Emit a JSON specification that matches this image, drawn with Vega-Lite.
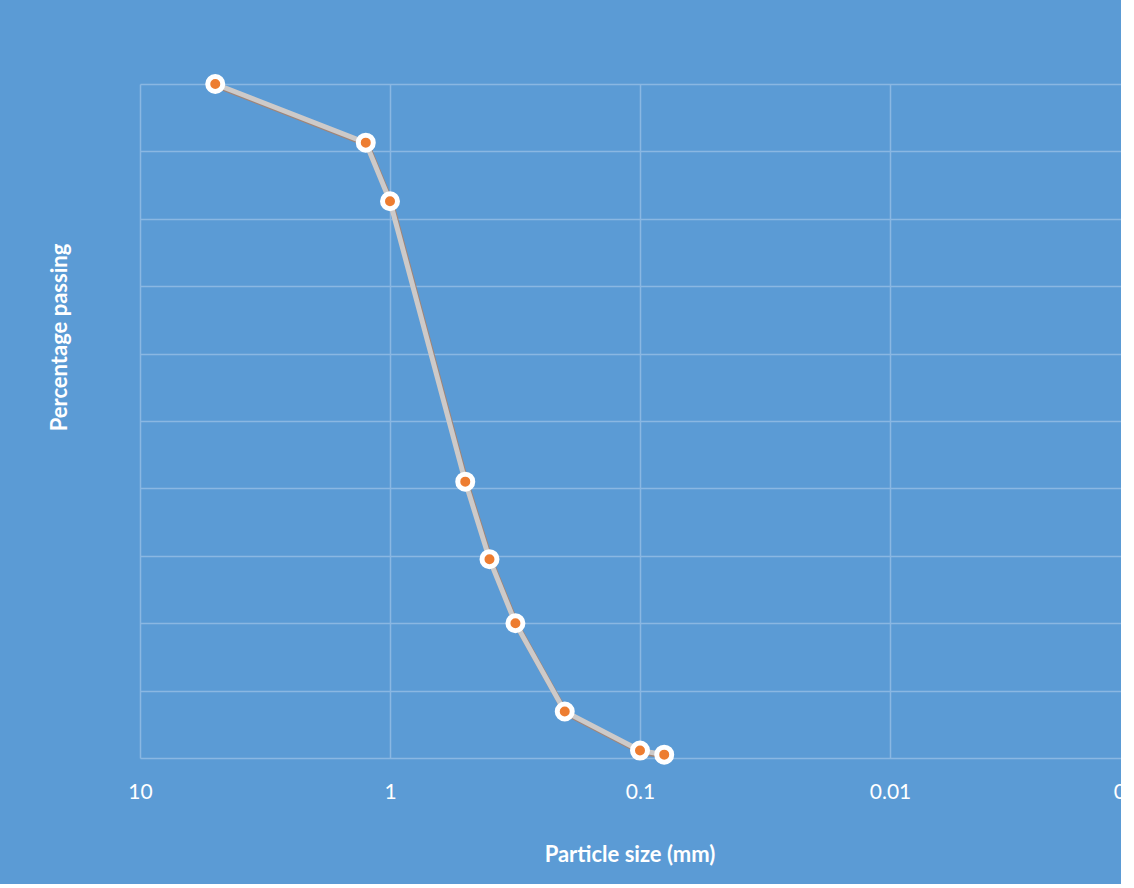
{
  "$schema": "https://vega.github.io/schema/vega-lite/v6.json",
  "autosize": {"type": "none"},
  "width": 1000,
  "height": 674,
  "padding": {"left": 140, "top": 84, "right": -19, "bottom": 126},
  "background": "#5B9BD5",
  "config": {
    "view": {"stroke": null},
    "font": "Lato",
    "axis": {
      "gridColor": "#8AB7E2",
      "gridWidth": 1.5,
      "gridOpacity": 1,
      "domain": false,
      "ticks": false,
      "tickSize": 0,
      "labelColor": "#FFFFFF",
      "labelFont": "Lato",
      "labelFontSize": 21,
      "titleColor": "#FFFFFF",
      "titleFont": "Lato",
      "titleFontSize": 22,
      "titleFontWeight": "bold"
    }
  },
  "data": {
    "values": [
      {"size_mm": 5, "passing": 100},
      {"size_mm": 1.25, "passing": 91.3},
      {"size_mm": 1, "passing": 82.6},
      {"size_mm": 0.5, "passing": 41.0},
      {"size_mm": 0.4, "passing": 29.5},
      {"size_mm": 0.315, "passing": 20.0},
      {"size_mm": 0.2, "passing": 6.9},
      {"size_mm": 0.1, "passing": 1.1},
      {"size_mm": 0.08, "passing": 0.5}
    ]
  },
  "encoding": {
    "x": {
      "field": "size_mm",
      "type": "quantitative",
      "scale": {"type": "log", "domain": [0.001, 10], "reverse": true, "nice": false},
      "axis": {
        "title": "Particle size (mm)",
        "values": [10, 1, 0.1, 0.01, 0.001],
        "format": "~g",
        "labelPadding": 40,
        "labelBaseline": "alphabetic",
        "labelFlush": false,
        "labelOverlap": false,
        "titleX": 489.5,
        "titleY": 103,
        "titleBaseline": "alphabetic",
        "titleAlign": "center"
      }
    },
    "y": {
      "field": "passing",
      "type": "quantitative",
      "scale": {"domain": [0, 100], "nice": false},
      "axis": {
        "title": "Percentage passing",
        "values": [0, 10, 20, 30, 40, 50, 60, 70, 80, 90, 100],
        "labels": false,
        "titleX": -74,
        "titleY": 253,
        "titleBaseline": "alphabetic",
        "titleAlign": "center",
        "titleAngle": 270
      }
    }
  },
  "layer": [
    {
      "mark": {"type": "line", "color": "#A08578", "strokeWidth": 5.5, "xOffset": 1.2, "yOffset": 1.5}
    },
    {
      "mark": {"type": "line", "color": "#CDCAC9", "strokeWidth": 5}
    },
    {
      "mark": {
        "type": "point",
        "shape": "circle",
        "filled": true,
        "fill": "#ED7D31",
        "stroke": "#FFFFFF",
        "strokeWidth": 5,
        "size": 225,
        "opacity": 1
      }
    }
  ]
}
